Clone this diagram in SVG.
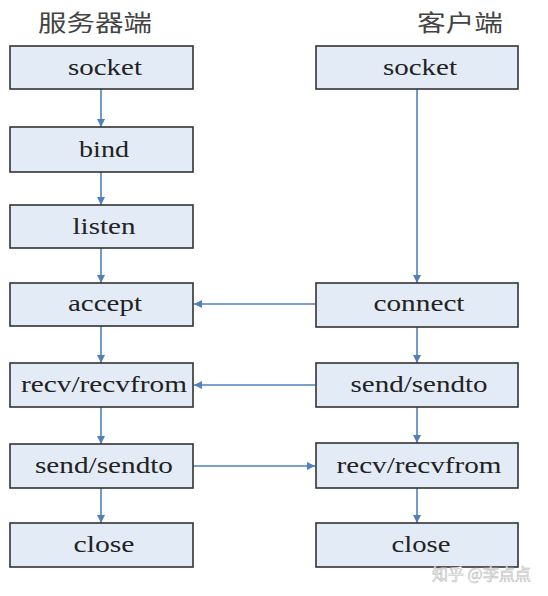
<svg xmlns="http://www.w3.org/2000/svg" width="548" height="596" viewBox="0 0 548 596">
<style>
.box{fill:#e3ebf6;stroke:#333;stroke-width:1.6}
.lbl{font-family:"Liberation Serif","Times New Roman",serif;font-size:23px;fill:#222;text-anchor:middle}
.ttl{font-family:"Noto Sans CJK SC","Noto Sans CJK TC",serif;font-size:23px;fill:#444}
.con{stroke:#4f81bd;stroke-width:1.6;fill:none;marker-end:url(#ah)}
.wm{font-family:"Noto Sans CJK SC",sans-serif;font-size:16px;fill:#fff;stroke:#bbb;stroke-width:0.6}
</style>
<defs>
<marker id="ah" markerWidth="8" markerHeight="8" refX="8" refY="4" orient="auto" markerUnits="userSpaceOnUse">
<path d="M0,0 L8,4 L0,8 Z" fill="#4f81bd"/>
</marker>
</defs>
<rect width="548" height="596" fill="#fff"/>
<text class="ttl" x="38" y="31" textLength="114" lengthAdjust="spacingAndGlyphs">服务器端</text>
<text class="ttl" x="417" y="31" textLength="86" lengthAdjust="spacingAndGlyphs">客户端</text>
<g id="connectors">
<line class="con" x1="101" y1="89" x2="101" y2="127"/>
<line class="con" x1="101" y1="172" x2="101" y2="205"/>
<line class="con" x1="101" y1="248" x2="101" y2="283"/>
<line class="con" x1="101" y1="326" x2="101" y2="363"/>
<line class="con" x1="101" y1="407" x2="101" y2="444"/>
<line class="con" x1="101" y1="488" x2="101" y2="523"/>
<line class="con" x1="417" y1="89" x2="417" y2="283"/>
<line class="con" x1="417" y1="327" x2="417" y2="363"/>
<line class="con" x1="417" y1="407" x2="417" y2="443"/>
<line class="con" x1="417" y1="488" x2="417" y2="523"/>
<line class="con" x1="315" y1="304" x2="194" y2="304"/>
<line class="con" x1="315" y1="385" x2="194" y2="385"/>
<line class="con" x1="193" y1="466" x2="315" y2="466"/>
</g>
<g id="s-socket"><rect class="box" x="10" y="46" width="183" height="43"/><text class="lbl" x="105" y="75" textLength="74" lengthAdjust="spacingAndGlyphs">socket</text></g>
<g id="s-bind"><rect class="box" x="10" y="127" width="183" height="45"/><text class="lbl" x="104" y="157" textLength="50" lengthAdjust="spacingAndGlyphs">bind</text></g>
<g id="s-listen"><rect class="box" x="10" y="205" width="183" height="43"/><text class="lbl" x="104" y="234" textLength="63" lengthAdjust="spacingAndGlyphs">listen</text></g>
<g id="s-accept"><rect class="box" x="10" y="283" width="183" height="43"/><text class="lbl" x="105" y="311" textLength="74" lengthAdjust="spacingAndGlyphs">accept</text></g>
<g id="s-recv"><rect class="box" x="10" y="363" width="183" height="44"/><text class="lbl" x="104" y="392" textLength="166" lengthAdjust="spacingAndGlyphs">recv/recvfrom</text></g>
<g id="s-send"><rect class="box" x="10" y="444" width="183" height="44"/><text class="lbl" x="104" y="473" textLength="138" lengthAdjust="spacingAndGlyphs">send/sendto</text></g>
<g id="s-close"><rect class="box" x="10" y="523" width="183" height="44"/><text class="lbl" x="104" y="552" textLength="61" lengthAdjust="spacingAndGlyphs">close</text></g>
<g id="c-socket"><rect class="box" x="316" y="46" width="202" height="43"/><text class="lbl" x="420" y="75" textLength="74" lengthAdjust="spacingAndGlyphs">socket</text></g>
<g id="c-connect"><rect class="box" x="316" y="283" width="202" height="44"/><text class="lbl" x="419" y="311" textLength="91" lengthAdjust="spacingAndGlyphs">connect</text></g>
<g id="c-send"><rect class="box" x="316" y="363" width="202" height="44"/><text class="lbl" x="419" y="392" textLength="137" lengthAdjust="spacingAndGlyphs">send/sendto</text></g>
<g id="c-recv"><rect class="box" x="316" y="443" width="202" height="45"/><text class="lbl" x="419" y="473" textLength="165" lengthAdjust="spacingAndGlyphs">recv/recvfrom</text></g>
<g id="c-close"><rect class="box" x="316" y="523" width="202" height="44"/><text class="lbl" x="421" y="552" textLength="59" lengthAdjust="spacingAndGlyphs">close</text></g>
<text class="wm" x="432" y="580">知乎 @李点点</text>
</svg>
